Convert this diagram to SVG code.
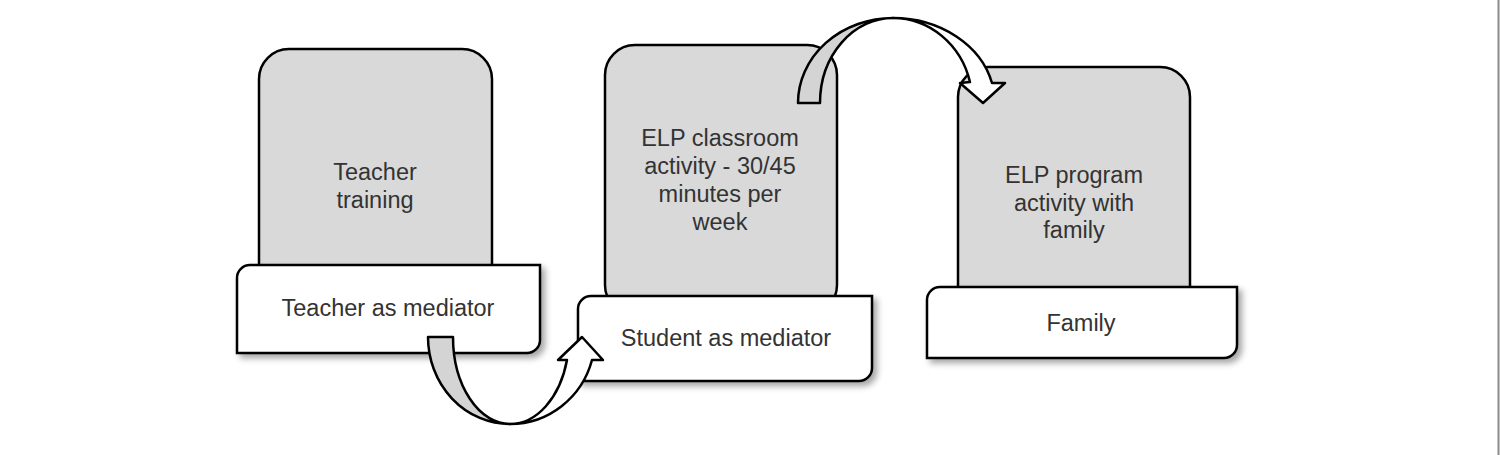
<svg xmlns="http://www.w3.org/2000/svg" width="1500" height="455" viewBox="0 0 1500 455">
<defs>
<filter id="sh" x="-10%" y="-10%" width="125%" height="135%">
<feDropShadow dx="4" dy="4" stdDeviation="3" flood-color="#000" flood-opacity="0.35"/>
</filter>
<style>
.g{fill:#d9d9d9;stroke:#000;stroke-width:2.5}
.w{fill:#fff;stroke:#000;stroke-width:2.5;filter:url(#sh)}
.t{font-family:"Liberation Sans",Arial,sans-serif;font-size:23.5px;fill:#333;text-anchor:middle}
.ag{fill:#d4d4d4;stroke:#000;stroke-width:2.5;stroke-linejoin:round}
.aw{fill:#fff;stroke:#000;stroke-width:2.5;stroke-linejoin:round}
</style>
</defs>
<rect width="1500" height="455" fill="#fff"/>
<line x1="1498.5" y1="0" x2="1498.5" y2="455" stroke="#8c8c8c" stroke-width="2"/>

<g id="node-teacher">
<rect class="g" x="259" y="49" width="233" height="260" rx="30" ry="30"/>
<text class="t" x="375" y="180">Teacher</text>
<text class="t" x="375" y="208">training</text>
<path class="w" d="M250,265 H540 V340 A13,13 0 0 1 527,353 H237 V278 A13,13 0 0 1 250,265 Z"/>
<text class="t" x="388" y="316">Teacher as mediator</text>
</g>

<g id="node-student">
<rect class="g" x="605" y="45" width="232" height="270" rx="30" ry="30"/>
<text class="t" x="720" y="146">ELP classroom</text>
<text class="t" x="720" y="174">activity - 30/45</text>
<text class="t" x="720" y="202">minutes per</text>
<text class="t" x="720" y="230">week</text>
<path class="w" d="M591,296 H872 V368 A13,13 0 0 1 859,381 H578 V309 A13,13 0 0 1 591,296 Z"/>
<text class="t" x="726" y="346">Student as mediator</text>
</g>

<g id="node-family">
<rect class="g" x="958" y="67" width="232" height="250" rx="30" ry="30"/>
<text class="t" x="1074" y="183">ELP program</text>
<text class="t" x="1074" y="211">activity with</text>
<text class="t" x="1074" y="238">family</text>
<path class="w" d="M940,287 H1237 V345 A13,13 0 0 1 1224,358 H927 V300 A13,13 0 0 1 940,287 Z"/>
<text class="t" x="1081" y="331">Family</text>
</g>

<g id="connectors">
<g id="arrow-teacher-student">
<path class="aw" d="M510,424 A85,87 0 0 0 592,360 L603,360 L582,337 L558,360 L567,360 A59,87 0 0 1 510,424 Z"/>
<path class="ag" d="M428,337 L453,337 A57,87 0 0 0 510,424 A82,87 0 0 1 428,337 Z"/>
</g>
<g id="arrow-student-family">
<path class="aw" d="M893,18 A102,85 0 0 1 992,83 L1005,83 L983,103 L960,83 L970,82 A79.5,85 0 0 0 893,18 Z"/>
<path class="ag" d="M798,103 L820,103 A73,85 0 0 1 893,18 A95,85 0 0 0 798,103 Z"/>
</g>
</g>
</svg>
